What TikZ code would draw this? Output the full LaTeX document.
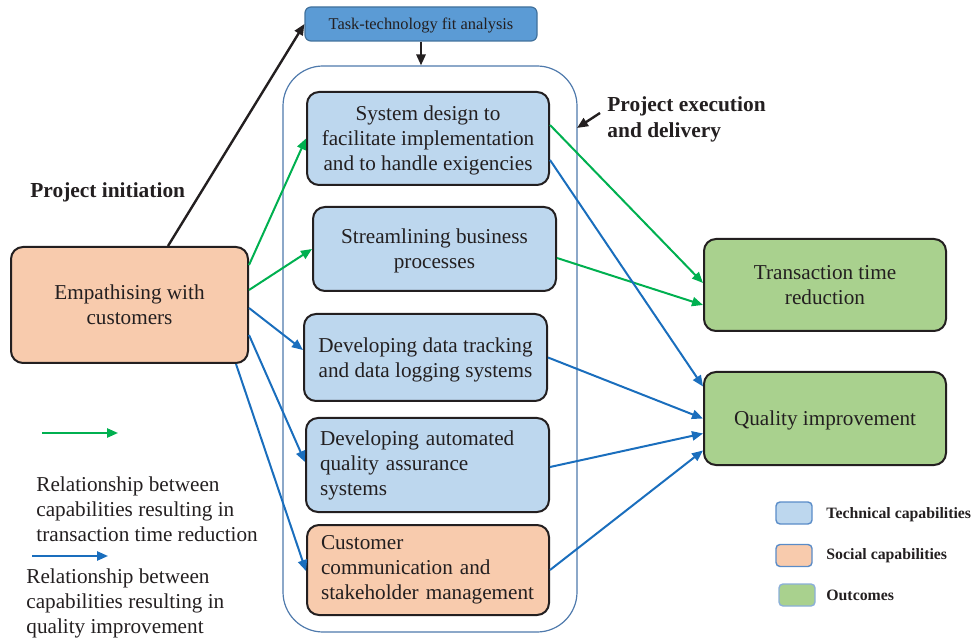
\documentclass[tikz,border=0pt]{standalone}
\usepackage{fontspec}
\setmainfont{Liberation Serif}
\usetikzlibrary{positioning,arrows.meta,shapes}
\usetikzlibrary{calc}
\definecolor{techblue}{RGB}{189,215,238}
\definecolor{socialorange}{RGB}{248,203,173}
\definecolor{outgreen}{RGB}{169,209,142}
\definecolor{fitblue}{RGB}{91,155,213}
\definecolor{fitborder}{RGB}{65,113,156}
\definecolor{phaseline}{RGB}{79,122,172}
\definecolor{legendline}{RGB}{90,140,200}
\definecolor{ttrgreen}{RGB}{0,176,80}
\definecolor{qiblue}{RGB}{26,110,189}
\definecolor{ink}{RGB}{35,31,32}
\tikzset{
  capab/.style={draw=ink, line width=1pt, rounded corners=6pt, inner xsep=4pt,
    text=ink, font=\fontsize{10.6}{12.5}\selectfont},
  centred/.style={align=center, text depth=0pt},
  flushleft/.style={align=left, inner xsep=7pt},
  technical/.style={capab, fill=techblue},
  social/.style={capab, fill=socialorange},
  outcome/.style={capab, fill=outgreen},
  tip/.style={-{Triangle[length=5.5pt,width=4.6pt]}},
  ttr/.style={draw=ttrgreen, line width=1pt, tip},
  qi/.style={draw=qiblue, line width=1pt, tip},
  plain/.style={draw=ink, line width=1.2pt, tip},
  legendbox/.style={draw=legendline, line width=0.7pt, rounded corners=2pt,
    minimum width=18pt, minimum height=11pt, inner sep=0pt},
  phaselabel/.style={inner sep=0pt, text depth=0pt, text=ink, align=left,
    font=\fontsize{10.7}{13}\selectfont\bfseries},
  legendtext/.style={inner sep=0pt, anchor=west, text=ink, align=left,
    font=\fontsize{10.6}{12.5}\selectfont},
  legendlabel/.style={inner sep=0pt, anchor=west, text=ink,
    font=\fontsize{7.9}{9}\selectfont\bfseries}
}

\begin{document}
\begin{tikzpicture}[x=0.5pt, y=-0.5pt]
    \useasboundingbox (0,0) rectangle (973,640);
    % execution and delivery phase
    \node[draw=phaseline, line width=0.6pt, rounded corners=20pt,
      minimum width=147pt, minimum height=283pt] (delivery) at (430,349) {};
    %
    \node[draw=fitborder, fill=fitblue, line width=0.6pt, rounded corners=3pt,
      minimum width=116pt, minimum height=17pt, inner sep=0pt, text depth=0pt, text=ink,
      font=\fontsize{8.2}{10}\selectfont] (taskfit) at (421,24) {Task-technology fit analysis};
    \node[social, centred, minimum width=118.5pt, minimum height=58pt]
      (empathy) at (129.5,305) {Empathising with\\customers};
    \node[technical, centred, minimum width=121pt, minimum height=46.5pt]
      (design) at (428,138.5) {System design to\\facilitate implementation\\and to handle exigencies};
    \node[technical, centred, minimum width=121.5pt, minimum height=42pt]
      (stream) at (434.5,249) {Streamlining business\\processes};
    \node[technical, centred, minimum width=121.5pt, minimum height=43.5pt]
      (tracking) at (425.5,357.5) {Developing data tracking\\and data logging systems};
    \node[technical, flushleft, minimum height=47pt, text width=107.5pt]
      (qa) at (427.5,465) {Developing automated\\quality assurance\\systems};
    \node[social, flushleft, minimum height=45pt, text width=107pt]
      (comm) at (428,570) {Customer\\communication and\\stakeholder management};
    \node[outcome, centred, minimum width=121pt, minimum height=46pt]
      (timered) at (825,285) {Transaction time\\reduction};
    \node[outcome, centred, minimum width=121pt, minimum height=46.5pt]
      (quality) at (825,418.5) {Quality improvement};
    %
    \node[phaselabel, anchor=west] (initiation) at (30,190) {Project initiation};
    \node[phaselabel, anchor=west] (execution) at (607,117) {Project execution\\and delivery};
    \coordinate (deliveryedge) at (577,128);
    %
    \draw[plain] ([xshift=19.25pt]empathy.north) -- (taskfit.west);
    \draw[plain] (taskfit.south) -- (taskfit.south |- delivery.north);
    \draw[plain] ([xshift=-3.5pt,yshift=2pt]execution.west) -- (deliveryedge);
    %
    \draw[ttr] ([yshift=20pt]empathy.east) -- (design.west);
    \draw[ttr] ([yshift=7.5pt]empathy.east) -- (stream.west);
    \draw[ttr] ([yshift=6.75pt]design.east) -- ([yshift=1pt]timered.west);
    \draw[ttr] ([yshift=-4.5pt]stream.east) -- ([yshift=-10pt]timered.west);
    %
    \draw[qi] ([yshift=-1.5pt]empathy.east) -- ([yshift=3.75pt]tracking.west);
    \draw[qi] ([yshift=-15pt]empathy.east) -- ([yshift=1.5pt]qa.west);
    \draw[qi] ([xshift=-6.5pt]empathy.south east) -- ([yshift=-0.5pt]comm.west);
    \draw[qi] ([yshift=-10.75pt]design.east) -- ([yshift=16pt]quality.west);
    \draw[qi] (tracking.east) -- (quality.west);
    \draw[qi] ([yshift=-1pt]qa.east) -- ([yshift=-7.5pt]quality.west);
    \draw[qi] (comm.east) -- ([yshift=-16pt]quality.west);
    %
    % legend
    \coordinate (ttrkey) at (42,433);
    \draw[ttr] (ttrkey) -- ++(76,0);
    \node[legendtext] (ttrtext) at (36,509) {Relationship between\\capabilities resulting in\\transaction time reduction};
    \coordinate (qikey) at (32,556);
    \draw[qi] (qikey) -- ++(76,0);
    \node[legendtext] (qitext) at (26,603) {Relationship between\\capabilities resulting in\\quality improvement};
    %
    \node[legendbox, fill=techblue] (techkey) at (794,513) {};
    \node[legendlabel] at (826,515) {Technical capabilities};
    \node[legendbox, fill=socialorange] (socialkey) at (794,555.5) {};
    \node[legendlabel] at (826,556) {Social capabilities};
    \node[legendbox, fill=outgreen, draw=legendline!70] (outkey) at (797,595) {};
    \node[legendlabel] at (826,595) {Outcomes};
\end{tikzpicture}
\end{document}
